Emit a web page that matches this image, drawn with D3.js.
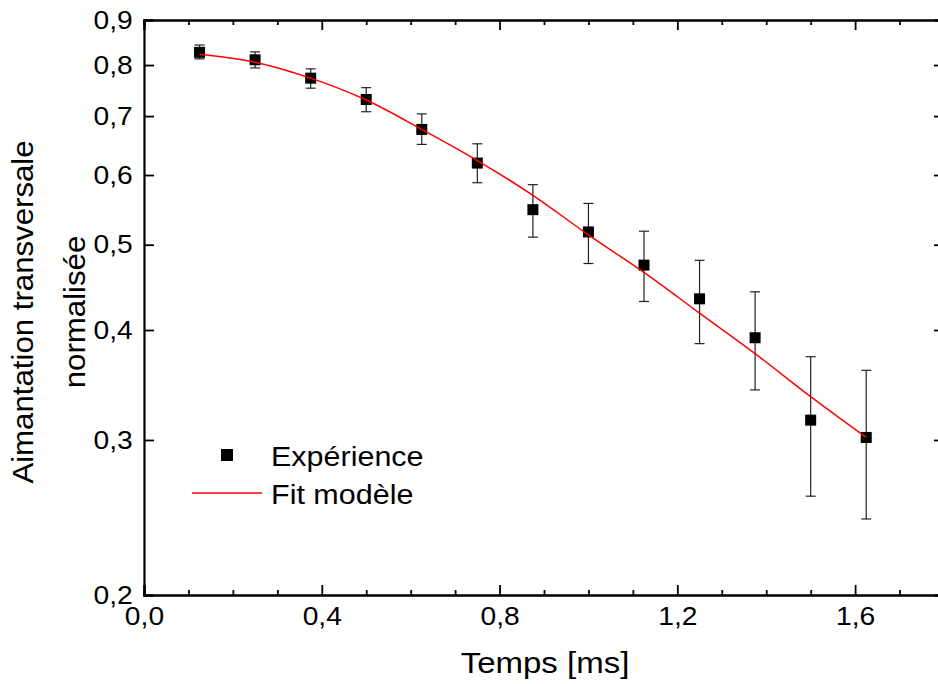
<!DOCTYPE html>
<html>
<head>
<meta charset="utf-8">
<script src="https://cdn.jsdelivr.net/npm/d3@7"></script>
<style>
  body { margin: 0; background: #fff; }
  text { font-family: "Liberation Sans", Arial, sans-serif; fill: #000; }
  .axis path, .axis line { stroke: #000; }
</style>
</head>
<body>
<div id="chart"></div>
<script>
// données
var temps = [0.125, 0.25, 0.375, 0.5, 0.625, 0.75, 0.875, 1.0, 1.125, 1.25, 1.375, 1.5, 1.625];
var mesure = [0.827, 0.811, 0.773, 0.731, 0.676, 0.619, 0.548, 0.517, 0.474, 0.434, 0.392, 0.316, 0.302];
var errHaut = [0.843, 0.828, 0.792, 0.754, 0.704, 0.651, 0.585, 0.557, 0.518, 0.480, 0.442, 0.373, 0.360];
var errBas = [0.813, 0.794, 0.753, 0.708, 0.650, 0.588, 0.510, 0.476, 0.431, 0.386, 0.342, 0.259, 0.244];
var fitModele = [0.823, 0.806, 0.773, 0.730, 0.676, 0.623, 0.569, 0.513, 0.465, 0.418, 0.376, 0.336, 0.302];
var xTicks = [0, 0.4, 0.8, 1.2, 1.6];
var xMinor = [0.1, 0.2, 0.3, 0.5, 0.6, 0.7, 0.9, 1.0, 1.1, 1.3, 1.4, 1.5, 1.7];
var yTicks = [0.2, 0.3, 0.4, 0.5, 0.6, 0.7, 0.8, 0.9];

var width = 938, height = 684;
var padding = { top: 20, right: -6, bottom: 89, left: 144 };

var svg = d3.select("#chart")
    .append("svg")
    .attr("width", width)
    .attr("height", height);

var xScale = d3.scaleLinear()
    .domain([0, 1.8])
    .range([padding.left, width - padding.right]);
var yScale = d3.scaleLog()
    .domain([0.2, 0.9])
    .range([height - padding.bottom, padding.top]);

var fmt = function(d) { return d3.format(".1f")(d).replace(".", ","); };

// axes (ticks vers l'intérieur)
var xAxis = d3.axisBottom(xScale).tickValues(xTicks).tickSize(-10).tickPadding(12).tickFormat(fmt);
var xAxisMinor = d3.axisBottom(xScale).tickValues(xMinor).tickSize(-5).tickFormat("");
var xTop = d3.axisTop(xScale).tickValues(xTicks).tickSize(-10).tickFormat("");
var xTopMinor = d3.axisTop(xScale).tickValues(xMinor).tickSize(-5).tickFormat("");
var yAxis = d3.axisLeft(yScale).tickValues(yTicks).tickSize(-10).tickPadding(10).tickFormat(fmt);
var yRight = d3.axisRight(yScale).tickValues(yTicks).tickSize(-10).tickFormat("");

function drawAxis(axis, tx, ty) {
    var g = svg.append("g")
        .attr("class", "axis")
        .attr("transform", "translate(" + tx + "," + ty + ")")
        .call(axis);
    g.select(".domain").attr("stroke-width", 2.2);
    g.selectAll(".tick line").attr("stroke-width", 1.8);
    return g;
}

var gx = drawAxis(xAxis, 0, height - padding.bottom);
drawAxis(xAxisMinor, 0, height - padding.bottom);
drawAxis(xTop, 0, padding.top);
drawAxis(xTopMinor, 0, padding.top);
var gy = drawAxis(yAxis, padding.left, 0);
drawAxis(yRight, width - padding.right, 0);

gx.selectAll("text")
    .attr("font-size", 25)
    .attr("transform", "scale(1.13,1)");
gy.selectAll("text")
    .attr("font-size", 25)
    .attr("transform", "scale(1.13,1)");

// barres d'erreur
var errG = svg.append("g");
for (var i = 0; i < temps.length; i++) {
    var cx = xScale(temps[i]);
    errG.append("line")
        .attr("x1", cx).attr("x2", cx)
        .attr("y1", yScale(errHaut[i])).attr("y2", yScale(errBas[i]))
        .attr("stroke", "#222").attr("stroke-width", 1.2);
    errG.append("line")
        .attr("x1", cx - 5).attr("x2", cx + 5)
        .attr("y1", yScale(errHaut[i])).attr("y2", yScale(errHaut[i]))
        .attr("stroke", "#222").attr("stroke-width", 1.2);
    errG.append("line")
        .attr("x1", cx - 5).attr("x2", cx + 5)
        .attr("y1", yScale(errBas[i])).attr("y2", yScale(errBas[i]))
        .attr("stroke", "#222").attr("stroke-width", 1.2);
}

// points expérimentaux
svg.append("g")
    .selectAll("rect")
    .data(temps)
    .enter()
    .append("rect")
    .attr("x", function(d) { return xScale(d) - 5.5; })
    .attr("y", function(d, i) { return yScale(mesure[i]) - 5.5; })
    .attr("width", 11)
    .attr("height", 11)
    .attr("fill", "#000");

// courbe du fit
var line = d3.line()
    .x(function(d) { return xScale(d); })
    .y(function(d, i) { return yScale(fitModele[i]); })
    .curve(d3.curveCatmullRom);
svg.append("path")
    .datum(temps)
    .attr("d", line)
    .attr("fill", "none")
    .attr("stroke", "#ff0000")
    .attr("stroke-width", 1.5);

// légende
var leg = svg.append("g");
leg.append("rect")
    .attr("x", 221).attr("y", 449)
    .attr("width", 12).attr("height", 12)
    .attr("fill", "#000");
leg.append("line")
    .attr("x1", 192).attr("x2", 262)
    .attr("y1", 493).attr("y2", 493)
    .attr("stroke", "#ff0000").attr("stroke-width", 1.3);
leg.append("text")
    .attr("transform", "translate(271,466) scale(1.13,1)")
    .attr("font-size", 27)
    .text("Expérience");
leg.append("text")
    .attr("transform", "translate(271,504) scale(1.13,1)")
    .attr("font-size", 27)
    .text("Fit modèle");

// titres des axes
svg.append("text")
    .attr("transform", "translate(545,673) scale(1.1,1)")
    .attr("text-anchor", "middle")
    .attr("font-size", 30)
    .text("Temps [ms]");

var yTitle = svg.append("text")
    .attr("transform", "translate(33,312) rotate(-90) scale(1.04,1)")
    .attr("text-anchor", "middle")
    .attr("font-size", 30);
yTitle.append("tspan").attr("x", 0).attr("y", 0).text("Aimantation transversale");
yTitle.append("tspan").attr("x", 0).attr("y", 52).text("normalisée");
</script>
</body>
</html>
